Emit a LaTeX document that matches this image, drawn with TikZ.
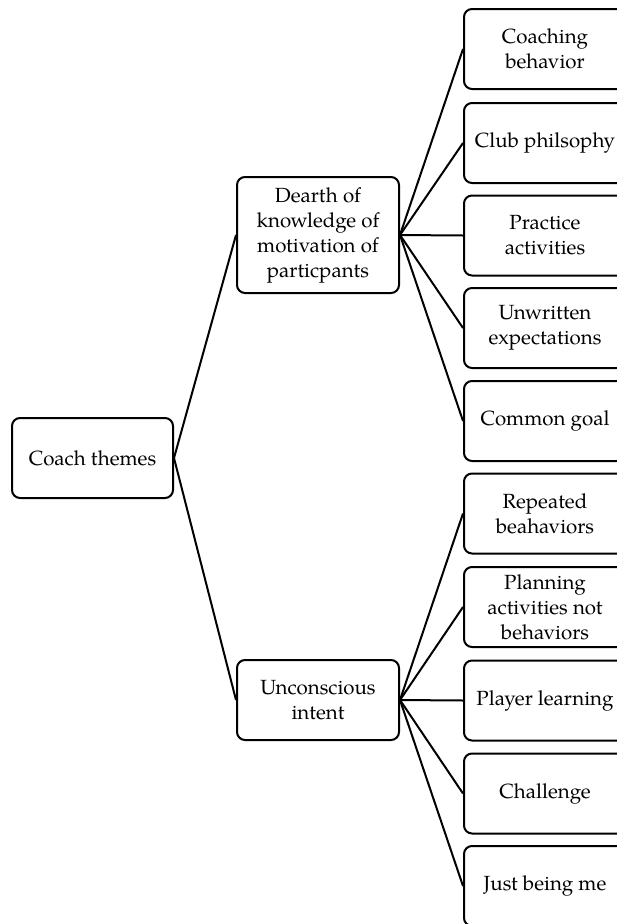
\documentclass[tikz,border=0pt]{standalone}
\usepackage{fontspec}
\setmainfont{TeX Gyre Pagella}
\begin{document}
\begin{tikzpicture}[x=1pt,y=-1pt,
  txt/.style={font=\fontsize{20.5}{25}\selectfont, align=center},
  box/.style={draw=black, line width=2pt, rounded corners=8pt, fill=white, align=center,
    font=\fontsize{20.5}{25}\selectfont, inner sep=0pt},
  link/.style={line width=2pt}]
\useasboundingbox (0,0) rectangle (617,924);
\clip (0,0) rectangle (617,924);
\node[box, minimum width=161pt, minimum height=80pt] (root) at (92.5,458) {Coach themes};
\node[box, minimum width=162pt, minimum height=116pt] (m1) at (318,235) {Dearth of\\knowledge of\\motivation of\\particpants};
\node[box, minimum width=162pt, minimum height=80pt] (m2) at (318,700) {Unconscious\\intent};
\foreach \n/\y/\t in {a/49/{Coaching\\behavior}, b/143/{Club philsophy}, c/235.5/{Practice\\activities}, d/328/{Unwritten\\expectations}, e/421/{Common goal}}{
  \node[box, minimum width=164pt, minimum height=80pt, anchor=west] (\n) at (463,\y) {};
  \node[txt] (\n t) at (545,\y) {\t};
}
\foreach \n/\y/\t in {f/513.5/{Repeated\\beahaviors}, g/607/{Planning\\activities not\\behaviors}, h/700.5/{Player learning}, i/793.5/{Challenge}, j/886/{Just being me}}{
  \node[box, minimum width=164pt, minimum height=80pt, anchor=west] (\n) at (463,\y) {};
  \node[txt] (\n t) at (545,\y) {\t};
}
\draw[link] (root.east) -- (m1.west);
\draw[link] (root.east) -- (m2.west);
\foreach \n in {a,b,c,d,e}{\draw[link] (m1.east) -- (\n.west);}
\foreach \n in {f,g,h,i,j}{\draw[link] (m2.east) -- (\n.west);}
\end{tikzpicture}
\end{document}
